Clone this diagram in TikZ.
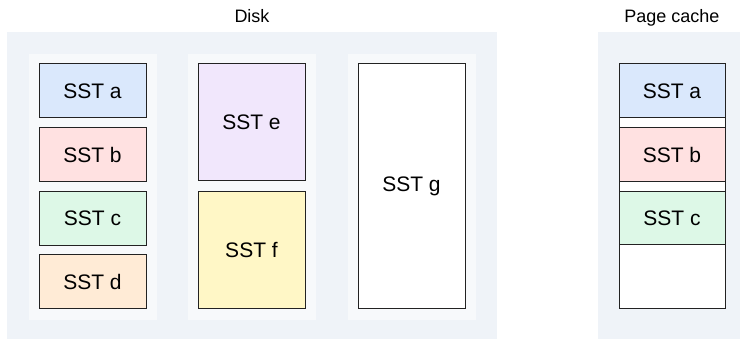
\documentclass[tikz,border=0pt]{standalone}
\usepackage{fontspec}
\setmainfont{Liberation Sans}
\definecolor{panelbg}{HTML}{EFF3F8}
\definecolor{colbg}{HTML}{F7F9FB}
\definecolor{sstblue}{HTML}{DAE8FC}
\definecolor{sstred}{HTML}{FFE1E1}
\definecolor{sstgreen}{HTML}{DDF8E7}
\definecolor{sstorange}{HTML}{FFEBD6}
\definecolor{sstpurple}{HTML}{F1E7FC}
\definecolor{sstyellow}{HTML}{FFF7C6}
\definecolor{edge}{HTML}{222222}
\tikzset{
  panel/.style={fill=panelbg, draw=none},
  column/.style={fill=colbg, draw=none},
  sst/.style={draw=edge, line width=1pt, inner sep=0pt,
    font=\fontsize{21}{25}\selectfont},
  caption/.style={font=\fontsize{18}{22}\selectfont, inner sep=0pt, anchor=base},
}
\begin{document}
\begin{tikzpicture}[x=1pt, y=-1pt]
\useasboundingbox (0,0) rectangle (740,339);
\clip (0,0) rectangle (740,339);

% Disk
\fill[panel] (7,32) rectangle (497,342);
\fill[column] (29,54) rectangle (157,320);
\fill[column] (188,54) rectangle (316,320);
\fill[column] (348,54) rectangle (476,320);
\node[caption] (disklabel) at (252,23) {Disk};

\node[sst, fill=sstblue,   minimum width=107pt, minimum height=54pt] (da) at (92.5,91) {SST a};
\node[sst, fill=sstred,    minimum width=107pt, minimum height=54pt] (db) at (92.5,155) {SST b};
\node[sst, fill=sstgreen,  minimum width=107pt, minimum height=54pt] (dc) at (92.5,218.5) {SST c};
\node[sst, fill=sstorange, minimum width=107pt, minimum height=54pt] (dd) at (92.5,282) {SST d};

\node[sst, fill=sstpurple, minimum width=107pt, minimum height=117pt] (de) at (251.5,122.5) {SST e};
\node[sst, fill=sstyellow, minimum width=107pt, minimum height=117pt] (df) at (251.5,250.5) {SST f};

\node[sst, fill=white, minimum width=107pt, minimum height=245pt] (dg) at (411.5,186.5) {SST g};

% Page cache
\fill[panel] (598,32) rectangle (746,342);
\node[caption] (cachelabel) at (672,23) {Page cache};
\node[sst, fill=white, minimum width=106pt, minimum height=245pt] (cache) at (672,186.5) {};
\node[sst, fill=sstblue,  minimum width=106pt, minimum height=54pt] (ca) at (672,91) {SST a};
\node[sst, fill=sstred,   minimum width=106pt, minimum height=54pt] (cb) at (672,155) {SST b};
\node[sst, fill=sstgreen, minimum width=106pt, minimum height=53pt] (cc) at (672,218.5) {SST c};
\end{tikzpicture}
\end{document}
